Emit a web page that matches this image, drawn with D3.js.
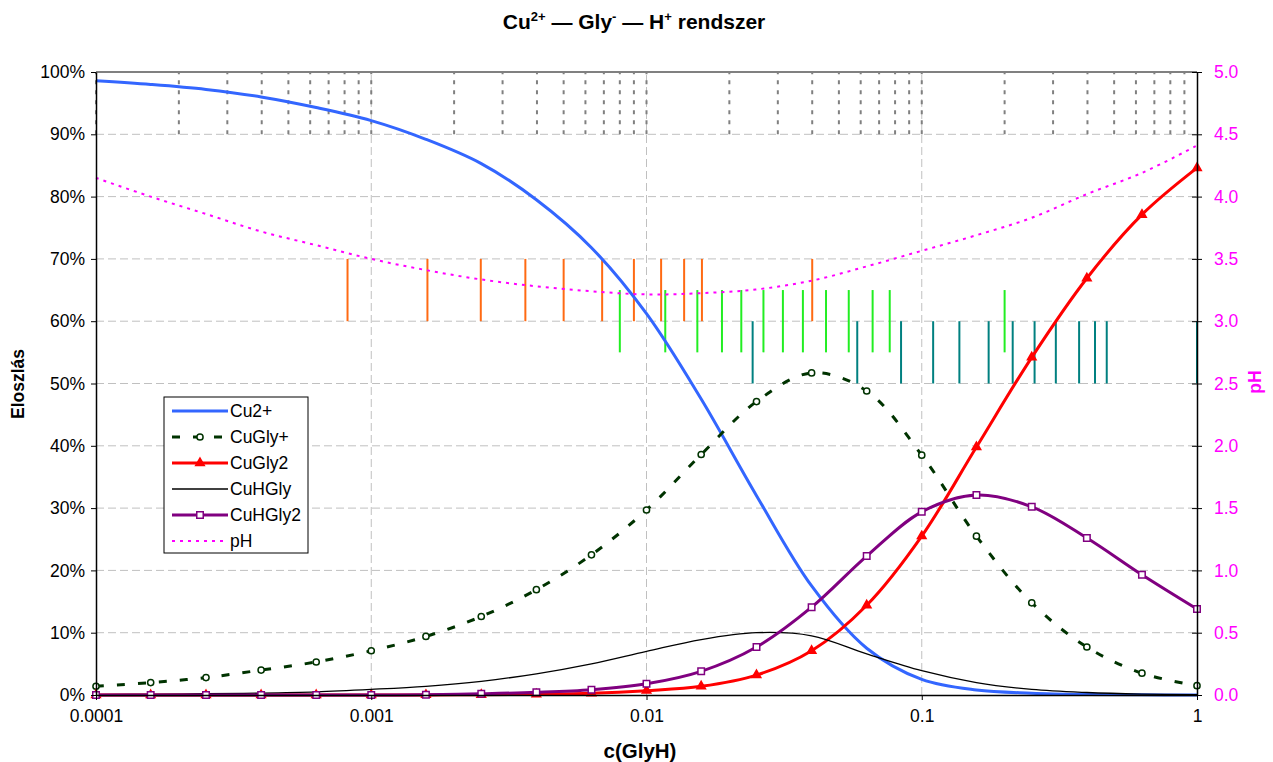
<!DOCTYPE html>
<meta charset="utf-8">
<style>
body { margin: 0; background: #fff; }
text { font-family: Arial, "Liberation Sans", sans-serif; }
</style>
<svg width="1273" height="762"></svg>
<script src="https://cdn.jsdelivr.net/npm/d3@7"></script>
<script>

// c(GlyH), mol/dm3 -- the calculated points
var conc = [0.0001, 0.000158, 0.000251, 0.000398, 0.000631, 0.001, 0.00158, 0.00251, 0.00398, 0.00631,
            0.01, 0.0158, 0.0251, 0.0398, 0.0631, 0.1, 0.158, 0.251, 0.398, 0.631, 1];

// distribution, %
var cu      = [98.6, 98.0, 97.2, 96.0, 94.3, 92.2, 89.2, 85.3, 79.5, 71.8, 61.2, 47.5, 32.0, 17.5, 7.5, 2.5, 0.8, 0.3, 0.1, 0.03, 0.01];
var cuGly   = [1.4, 2.0, 2.8, 4.0, 5.3, 7.1, 9.4, 12.6, 16.9, 22.5, 29.7, 38.6, 47.1, 51.7, 48.8, 38.5, 25.5, 14.8, 7.7, 3.5, 1.5];
var cuGly2  = [0, 0, 0, 0, 0, 0, 0.02, 0.05, 0.12, 0.27, 0.7, 1.4, 3.2, 7.1, 14.4, 25.5, 39.8, 54.2, 66.9, 77.1, 84.6];
var cuHGly  = [0.06, 0.1, 0.2, 0.3, 0.5, 0.9, 1.4, 2.2, 3.4, 5.0, 7.0, 8.9, 10.0, 9.5, 6.6, 3.9, 2.0, 0.9, 0.4, 0.15, 0.05];
var cuHGly2 = [0, 0, 0, 0, 0, 0.01, 0.05, 0.2, 0.43, 0.85, 1.8, 3.8, 7.7, 14.1, 22.3, 29.4, 32.1, 30.2, 25.2, 19.3, 13.8];
var ph      = [4.15, 4.0, 3.86, 3.72, 3.61, 3.50, 3.41, 3.335, 3.28, 3.24, 3.215, 3.225, 3.255, 3.325, 3.44, 3.565, 3.69, 3.83, 4.02, 4.19, 4.41];

// vertical marker bars (concentrations) and the % band they span
var minorMarks = [0.0001, 0.0002, 0.0003, 0.0004, 0.0005, 0.0006, 0.0007, 0.0008, 0.0009,
                  0.001, 0.002, 0.003, 0.004, 0.005, 0.006, 0.007, 0.008, 0.009,
                  0.01, 0.02, 0.03, 0.04, 0.05, 0.06, 0.07, 0.08, 0.09,
                  0.1, 0.2, 0.3, 0.4, 0.5, 0.6, 0.7, 0.8, 0.9];
var minorBand = [90, 100];
var orangeMarks = [0.00082, 0.0016, 0.0025, 0.00363, 0.005, 0.0069, 0.009, 0.0113, 0.0137, 0.0159, 0.04];
var orangeBand = [60, 70];
var greenMarks = [0.008, 0.0117, 0.0153, 0.0188, 0.0221, 0.0266, 0.0313, 0.037, 0.0449, 0.0543, 0.0663, 0.0765, 0.2];
var greenBand = [55, 65];
var tealMarks = [0.0243, 0.0583, 0.0841, 0.110, 0.137, 0.175, 0.214, 0.257, 0.307, 0.373, 0.426, 0.47, 1];
var tealBand = [50, 60];

var xTicks = [0.0001, 0.001, 0.01, 0.1, 1];
var xTickLabels = ["0.0001", "0.001", "0.01", "0.1", "1"];

var svg = d3.select("svg"),
    width = +svg.attr("width"),
    height = +svg.attr("height"),
    margin = {top: 72, right: 76, bottom: 67, left: 96};

var x = d3.scaleLog().domain([0.0001, 1]).range([margin.left, width - margin.right]);
var y = d3.scaleLinear().domain([0, 100]).range([height - margin.bottom, margin.top]);
var yPh = d3.scaleLinear().domain([0, 5]).range([height - margin.bottom, margin.top]);

// gridlines
var grid = svg.append("g");
grid.selectAll("line.h")
  .data(d3.range(10, 100, 10))
  .enter().append("line")
    .attr("x1", x.range()[0]).attr("x2", x.range()[1])
    .attr("y1", function(d) { return y(d); }).attr("y2", function(d) { return y(d); })
    .attr("stroke", "#c0c0c0").attr("stroke-dasharray", "8,4");
grid.selectAll("line.v")
  .data([0.001, 0.01, 0.1])
  .enter().append("line")
    .attr("x1", function(d) { return x(d); }).attr("x2", function(d) { return x(d); })
    .attr("y1", y(0)).attr("y2", y(100))
    .attr("stroke", "#c0c0c0").attr("stroke-dasharray", "8,4");

svg.append("line")
    .attr("x1", x.range()[0]).attr("x2", x.range()[1])
    .attr("y1", y(100)).attr("y2", y(100))
    .attr("stroke", "#808080").attr("stroke-width", 2);

function bars(marks, band, color, w, dash) {
  svg.append("g").selectAll("line")
    .data(marks)
    .enter().append("line")
      .attr("x1", function(d) { return x(d); }).attr("x2", function(d) { return x(d); })
      .attr("y1", y(band[0])).attr("y2", y(band[1]))
      .attr("stroke", color).attr("stroke-width", w)
      .attr("stroke-dasharray", dash);
}
bars(minorMarks, minorBand, "#808080", 2, "4,6");
bars(orangeMarks, orangeBand, "#ff6a13", 2, null);
bars(greenMarks, greenBand, "#22ee22", 2, null);
bars(tealMarks, tealBand, "#008080", 2, null);

// series
var series = [
  {name: "Cu2+",    values: cu,      color: "#3366ff", width: 3,   dash: null,   marker: null},
  {name: "CuGly+",  values: cuGly,   color: "#003300", width: 3,   dash: "8,13", marker: "circle"},
  {name: "CuGly2",  values: cuGly2,  color: "#ff0000", width: 3,   dash: null,   marker: "triangle"},
  {name: "CuHGly",  values: cuHGly,  color: "#000000", width: 1.3, dash: null,   marker: null},
  {name: "CuHGly2", values: cuHGly2, color: "#800080", width: 3,   dash: null,   marker: "square"},
  {name: "pH",      values: ph,      color: "#ff00ff", width: 2,   dash: "3,5",  marker: null, ph: true}
];

var markerSym = {circle: d3.symbolCircle, triangle: d3.symbolTriangle, square: d3.symbolSquare};
var markerSize = {circle: 30, triangle: 32, square: 42};

function drawMarker(sel, s, cx, cy) {
  var m = sel.append("path")
      .attr("d", d3.symbol().type(markerSym[s.marker]).size(markerSize[s.marker]))
      .attr("transform", "translate(" + cx + "," + cy + ")")
      .attr("stroke", s.color).attr("stroke-width", 1.5);
  if (s.marker == "triangle") m.attr("fill", s.color);
  else m.attr("fill", "#fff");
}

series.forEach(function(s) {
  var yy = s.ph ? yPh : y;
  var line = d3.line()
      .x(function(d, i) { return x(conc[i]); })
      .y(function(d) { return yy(d); })
      .curve(d3.curveCatmullRom.alpha(0.5));
  svg.append("path")
      .datum(s.values)
      .attr("d", line)
      .attr("fill", "none")
      .attr("stroke", s.color)
      .attr("stroke-width", s.width)
      .attr("stroke-dasharray", s.dash)
      .attr("stroke-linejoin", "round");
  if (s.marker) {
    var g = svg.append("g");
    s.values.forEach(function(v, i) { drawMarker(g, s, x(conc[i]), yy(v)); });
  }
});

// axes
var xAxis = svg.append("g")
    .attr("transform", "translate(0," + y(0) + ")")
    .call(d3.axisBottom(x).tickValues(xTicks).tickFormat(function(d, i) { return xTickLabels[i]; })
      .tickSizeInner(5).tickSizeOuter(0).tickPadding(10));
var yAxis = svg.append("g")
    .attr("transform", "translate(" + x.range()[0] + ",0)")
    .call(d3.axisLeft(y).tickValues(d3.range(0, 101, 10)).tickFormat(function(d) { return d + "%"; })
      .tickSizeInner(5).tickSizeOuter(0).tickPadding(6));
var phAxis = svg.append("g")
    .attr("transform", "translate(" + x.range()[1] + ",0)")
    .call(d3.axisRight(yPh).tickValues(d3.range(0, 5.01, 0.5)).tickFormat(d3.format(".1f"))
      .tickSizeInner(5).tickSizeOuter(0).tickPadding(12));
phAxis.selectAll(".tick line").attr("x1", -5);
phAxis.selectAll(".tick text").attr("fill", "#ff00ff");

[xAxis, yAxis, phAxis].forEach(function(a) {
  a.select(".domain").attr("stroke", "#000").attr("stroke-width", 1.5);
  a.selectAll(".tick text").style("font-size", "17.5px").style("font-family", "Arial, 'Liberation Sans', sans-serif");
});

// titles
var title = svg.append("text")
    .attr("x", 634).attr("y", 29)
    .attr("text-anchor", "middle")
    .style("font-size", "21px").style("font-weight", "bold");
title.append("tspan").text("Cu");
title.append("tspan").attr("dy", -8).style("font-size", "13px").text("2+");
title.append("tspan").attr("dy", 8).text(" \u2014 Gly");
title.append("tspan").attr("dy", -8).style("font-size", "13px").text("-");
title.append("tspan").attr("dy", 8).text(" \u2014 H");
title.append("tspan").attr("dy", -8).style("font-size", "13px").text("+");
title.append("tspan").attr("dy", 8).text(" rendszer");

svg.append("text")
    .attr("x", 640).attr("y", 758)
    .attr("text-anchor", "middle")
    .style("font-size", "20.5px").style("font-weight", "bold")
    .text("c(GlyH)");

svg.append("text")
    .attr("transform", "translate(24,384) rotate(-90)")
    .attr("text-anchor", "middle")
    .style("font-size", "17.5px").style("font-weight", "bold")
    .text("Eloszlás");

svg.append("text")
    .attr("transform", "translate(1261,382) rotate(-90)")
    .attr("text-anchor", "middle")
    .attr("fill", "#ff00ff")
    .style("font-size", "17.5px").style("font-weight", "bold")
    .text("pH");

// legend
var legend = svg.append("g").attr("transform", "translate(164,397)");
legend.append("rect")
    .attr("width", 144).attr("height", 156)
    .attr("fill", "#fff").attr("stroke", "#000").attr("stroke-width", 1);
series.forEach(function(s, i) {
  var ly = 14 + i * 26;
  legend.append("line")
      .attr("x1", 8).attr("x2", 64)
      .attr("y1", ly).attr("y2", ly)
      .attr("stroke", s.color).attr("stroke-width", s.width)
      .attr("stroke-dasharray", s.dash);
  if (s.marker) drawMarker(legend, s, 36, ly);
  legend.append("text")
      .attr("x", 66).attr("y", ly + 6)
      .style("font-size", "17.5px")
      .text(s.name);
});

</script>
